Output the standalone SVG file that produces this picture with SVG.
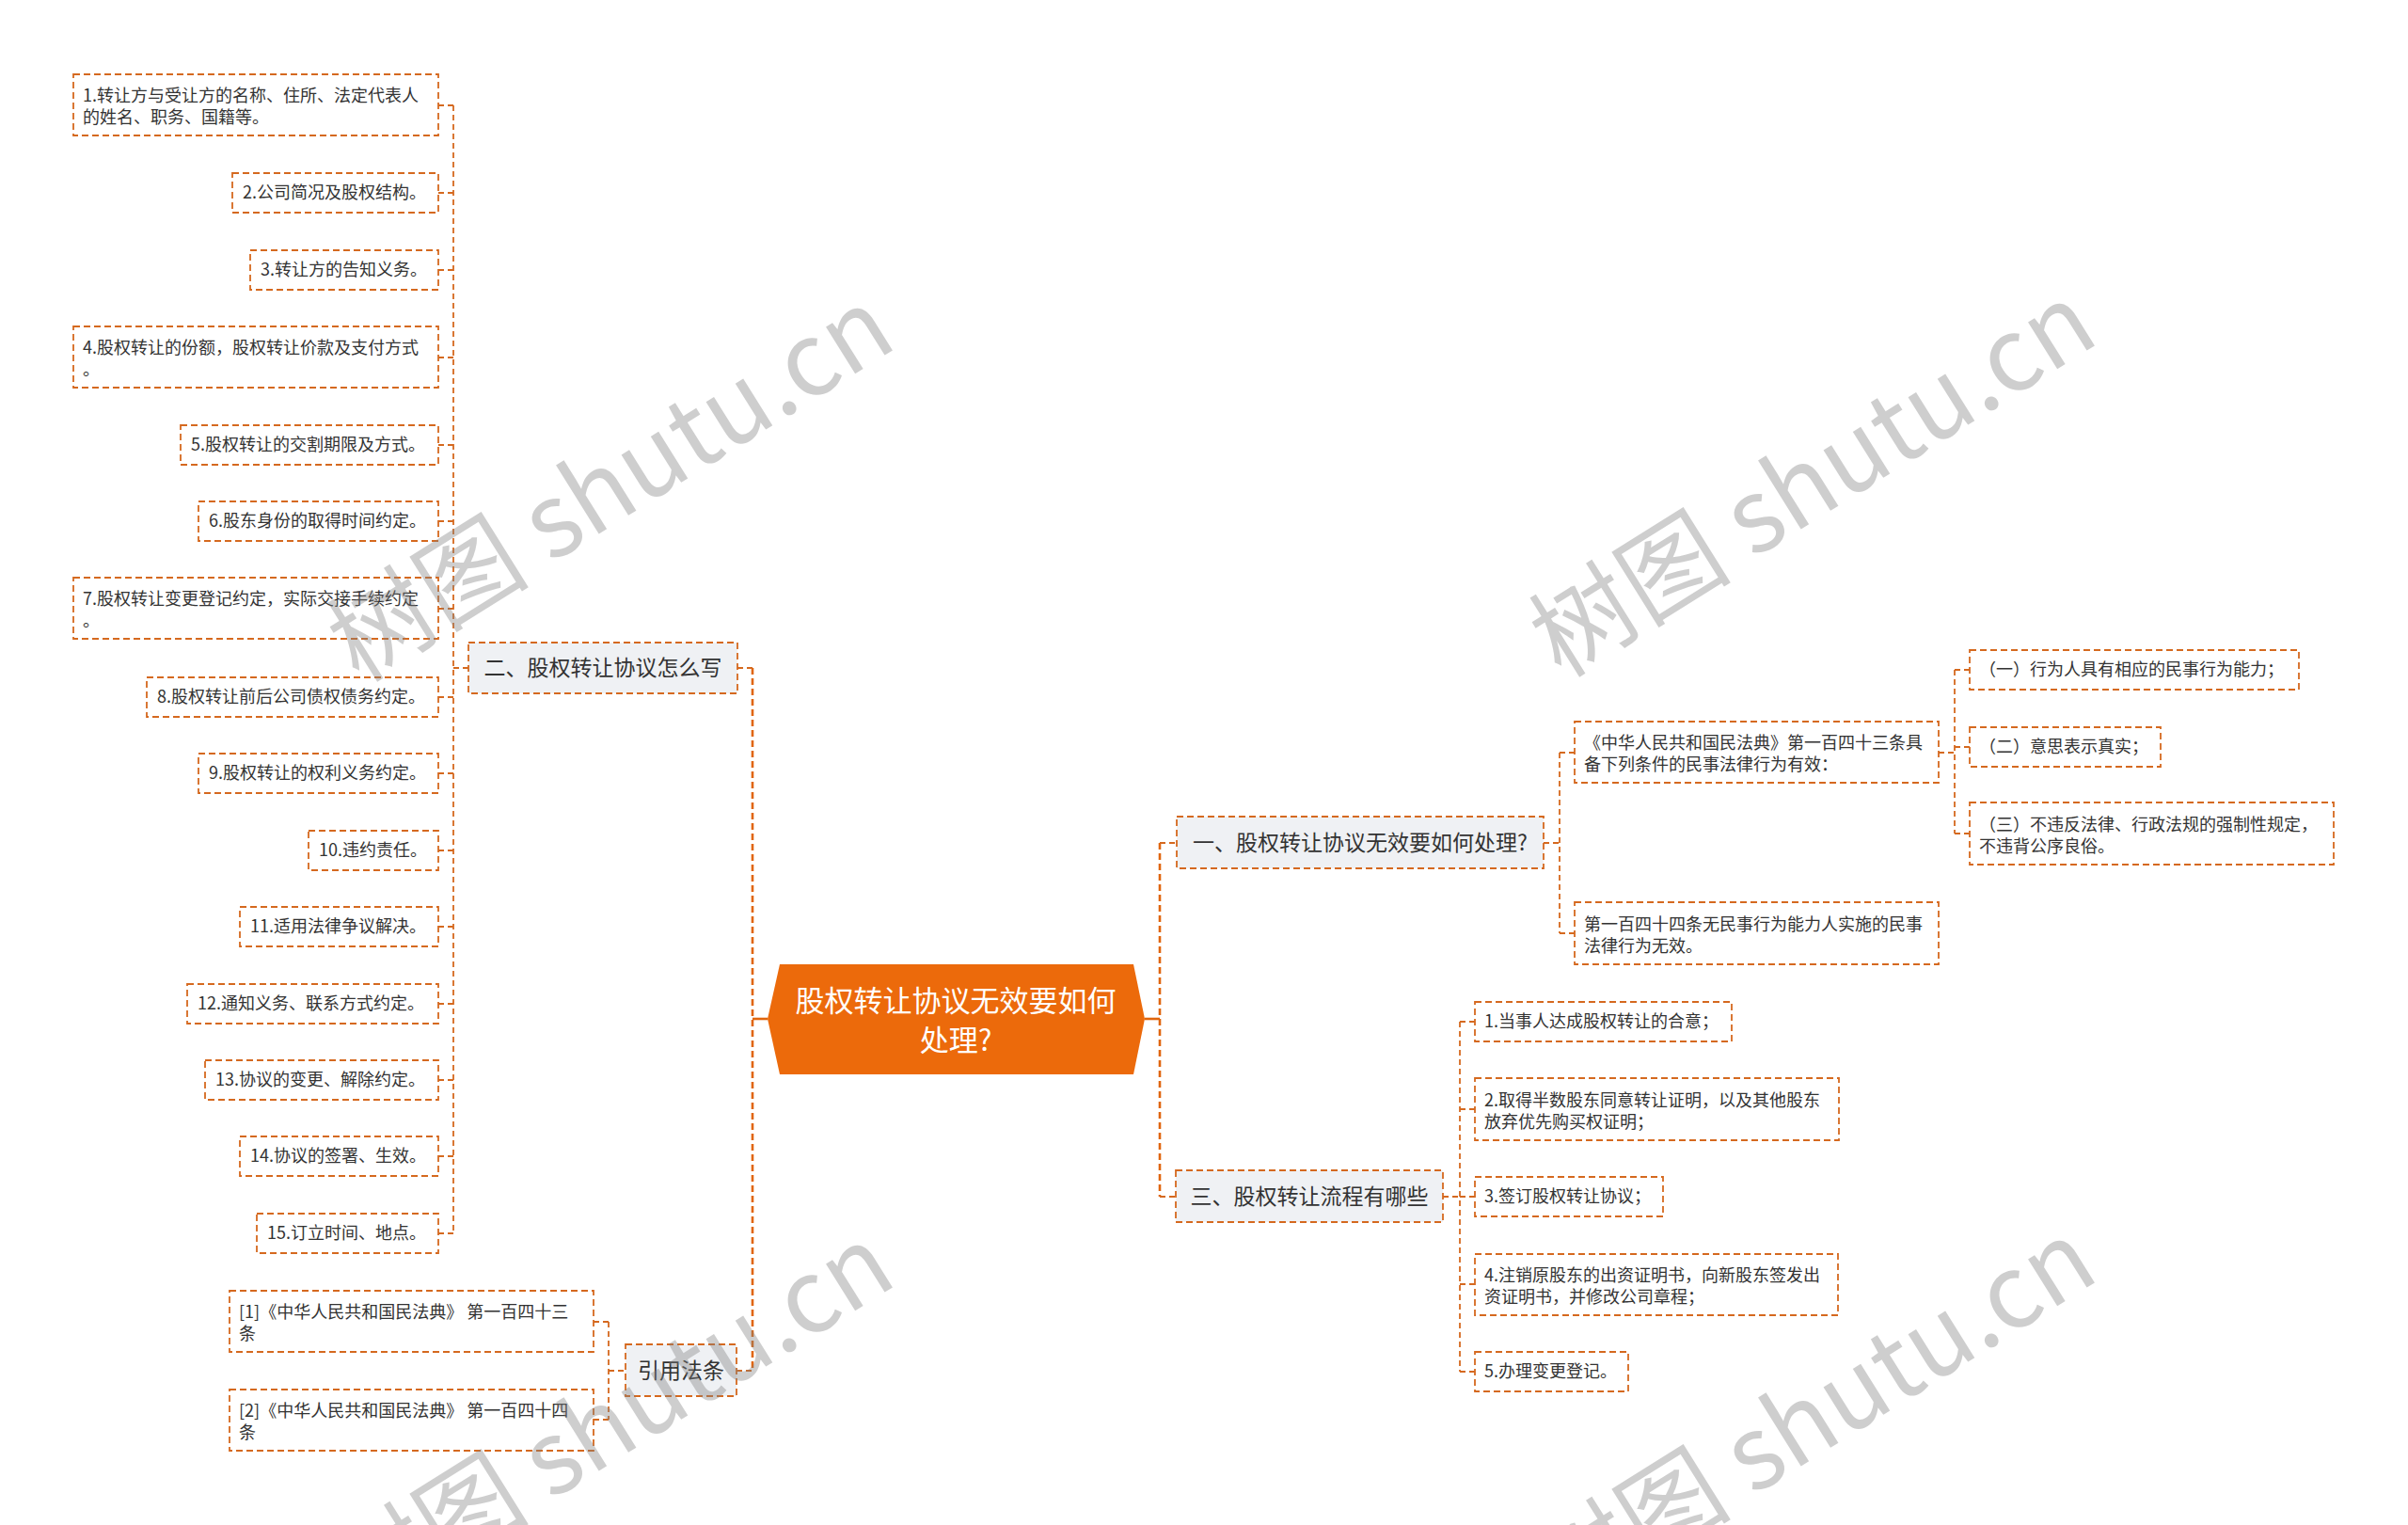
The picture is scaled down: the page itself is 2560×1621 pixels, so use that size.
<svg xmlns="http://www.w3.org/2000/svg" width="2560" height="1621" viewBox="0 0 2560 1621">
<style>
.leaf{fill:#ffffff;stroke:#D5691F;stroke-width:1.8;stroke-dasharray:7 4}
.br{fill:#EFF1F4;stroke:#D5691F;stroke-width:1.8;stroke-dasharray:7 4}
.t{font-family:"Noto Sans CJK SC","Microsoft YaHei",sans-serif;font-size:18px;fill:#333333}
.bt{font-family:"Noto Sans CJK SC","Microsoft YaHei",sans-serif;font-size:23px;fill:#333333;text-anchor:middle}
.ct{font-family:"Noto Sans CJK SC","Microsoft YaHei",sans-serif;font-size:31px;fill:#ffffff;text-anchor:middle}
.c{fill:none;stroke:#D5691F;stroke-width:1.8;stroke-dasharray:6 4}
.cm{fill:none;stroke:#E0650E;stroke-width:2.6;stroke-dasharray:7 4}
.cs{fill:none;stroke:#E0650E;stroke-width:2.6}
.wm{font-family:"Noto Sans CJK SC","Liberation Sans",sans-serif;font-size:108px;fill:#808080;opacity:0.38;text-anchor:middle}
</style>
<rect width="2560" height="1621" fill="#ffffff"/>
<g id="connectors">
<path class="c" d="M482 112 V1311"/>
<path class="c" d="M482 112 H466 M482 205 H466 M482 287 H466 M482 380 H466 M482 473 H466 M482 554 H466 M482 647 H466 M482 741 H466 M482 822 H466 M482 904 H466 M482 985 H466 M482 1067 H466 M482 1148 H466 M482 1229 H466 M482 1311 H466"/>
<path class="c" d="M482 710 H498"/>
<path class="cm" d="M800 710 V1457"/>
<path class="c" d="M784 710 H800 M783 1457 H800"/>
<path class="cs" d="M816 1083 H800"/>
<path class="c" d="M647 1405 V1509 M647 1405 H631 M647 1509 H631 M647 1457 H665"/>
<path class="cs" d="M1217 1083 H1233"/>
<path class="cm" d="M1233 896 V1272"/>
<path class="c" d="M1233 896 H1251 M1233 1272 H1250"/>
<path class="c" d="M1641 896 H1658 M1658 800 V992 M1658 800 H1674 M1658 992 H1674"/>
<path class="c" d="M2061 800 H2078 M2078 712 V886 M2078 712 H2094 M2078 794 H2094 M2078 886 H2094"/>
<path class="c" d="M1534 1272 H1552 M1552 1086 V1458 M1552 1086 H1568 M1552 1179 H1568 M1552 1272 H1568 M1552 1365 H1568 M1552 1458 H1568"/>
</g>
<g id="center">
<polygon points="829,1025 1205,1025 1217,1083 1205,1142 829,1142 816,1083" fill="#EC6A0B"/>
<text class="ct" x="1016" y="1075">股权转让协议无效要如何</text>
<text class="ct" x="1016" y="1117">处理?</text>
</g>
<g id="b2"><rect class="br" x="498" y="683" width="286" height="54"/><text class="bt" x="641" y="718">二、股权转让协议怎么写</text></g>
<g id="b1"><rect class="br" x="1251" y="868" width="390" height="55"/><text class="bt" x="1446" y="904">一、股权转让协议无效要如何处理?</text></g>
<g id="b3"><rect class="br" x="1250" y="1244" width="284" height="55"/><text class="bt" x="1392" y="1280">三、股权转让流程有哪些</text></g>
<g id="b4"><rect class="br" x="665" y="1429" width="118" height="55"/><text class="bt" x="724" y="1465">引用法条</text></g>
<g id="l1"><rect class="leaf" x="78" y="79" width="388" height="65"/><text class="t" x="88" y="108">1.转让方与受让方的名称、住所、法定代表人</text><text class="t" x="88" y="131">的姓名、职务、国籍等。</text></g>
<g id="l2"><rect class="leaf" x="247" y="184" width="219" height="42"/><text class="t" x="258" y="211">2.公司简况及股权结构。</text></g>
<g id="l3"><rect class="leaf" x="266" y="266" width="200" height="42"/><text class="t" x="277" y="293">3.转让方的告知义务。</text></g>
<g id="l4"><rect class="leaf" x="78" y="347" width="388" height="65"/><text class="t" x="88" y="376">4.股权转让的份额，股权转让价款及支付方式</text><text class="t" x="88" y="399">。</text></g>
<g id="l5"><rect class="leaf" x="192" y="452" width="274" height="42"/><text class="t" x="203" y="479">5.股权转让的交割期限及方式。</text></g>
<g id="l6"><rect class="leaf" x="211" y="533" width="255" height="42"/><text class="t" x="222" y="560">6.股东身份的取得时间约定。</text></g>
<g id="l7"><rect class="leaf" x="78" y="614" width="388" height="65"/><text class="t" x="88" y="643">7.股权转让变更登记约定，实际交接手续约定</text><text class="t" x="88" y="666">。</text></g>
<g id="l8"><rect class="leaf" x="156" y="720" width="310" height="42"/><text class="t" x="167" y="747">8.股权转让前后公司债权债务约定。</text></g>
<g id="l9"><rect class="leaf" x="211" y="801" width="255" height="42"/><text class="t" x="222" y="828">9.股权转让的权利义务约定。</text></g>
<g id="l10"><rect class="leaf" x="328" y="883" width="138" height="42"/><text class="t" x="339" y="910">10.违约责任。</text></g>
<g id="l11"><rect class="leaf" x="255" y="964" width="211" height="42"/><text class="t" x="266" y="991">11.适用法律争议解决。</text></g>
<g id="l12"><rect class="leaf" x="199" y="1046" width="267" height="42"/><text class="t" x="210" y="1073">12.通知义务、联系方式约定。</text></g>
<g id="l13"><rect class="leaf" x="218" y="1127" width="248" height="42"/><text class="t" x="229" y="1154">13.协议的变更、解除约定。</text></g>
<g id="l14"><rect class="leaf" x="255" y="1208" width="211" height="42"/><text class="t" x="266" y="1235">14.协议的签署、生效。</text></g>
<g id="l15"><rect class="leaf" x="273" y="1290" width="193" height="42"/><text class="t" x="284" y="1317">15.订立时间、地点。</text></g>
<g id="r1"><rect class="leaf" x="244" y="1372" width="387" height="65"/><text class="t" x="254" y="1401">[1]《中华人民共和国民法典》 第一百四十三</text><text class="t" x="254" y="1424">条</text></g>
<g id="r2"><rect class="leaf" x="244" y="1477" width="387" height="65"/><text class="t" x="254" y="1506">[2]《中华人民共和国民法典》 第一百四十四</text><text class="t" x="254" y="1529">条</text></g>
<g id="a1"><rect class="leaf" x="1674" y="767" width="387" height="65"/><text class="t" x="1684" y="796">《中华人民共和国民法典》第一百四十三条具</text><text class="t" x="1684" y="819">备下列条件的民事法律行为有效：</text></g>
<g id="a2"><rect class="leaf" x="1674" y="959" width="387" height="66"/><text class="t" x="1684" y="989">第一百四十四条无民事行为能力人实施的民事</text><text class="t" x="1684" y="1012">法律行为无效。</text></g>
<g id="s1"><rect class="leaf" x="2094" y="691" width="350" height="42"/><text class="t" x="2104" y="718">（一）行为人具有相应的民事行为能力；</text></g>
<g id="s2"><rect class="leaf" x="2094" y="773" width="203" height="42"/><text class="t" x="2104" y="800">（二）意思表示真实；</text></g>
<g id="s3"><rect class="leaf" x="2094" y="853" width="387" height="66"/><text class="t" x="2104" y="883">（三）不违反法律、行政法规的强制性规定，</text><text class="t" x="2104" y="906">不违背公序良俗。</text></g>
<g id="p1"><rect class="leaf" x="1568" y="1065" width="273" height="42"/><text class="t" x="1578" y="1092">1.当事人达成股权转让的合意；</text></g>
<g id="p2"><rect class="leaf" x="1568" y="1146" width="387" height="66"/><text class="t" x="1578" y="1176">2.取得半数股东同意转让证明，以及其他股东</text><text class="t" x="1578" y="1199">放弃优先购买权证明；</text></g>
<g id="p3"><rect class="leaf" x="1568" y="1251" width="200" height="42"/><text class="t" x="1578" y="1278">3.签订股权转让协议；</text></g>
<g id="p4"><rect class="leaf" x="1568" y="1333" width="386" height="65"/><text class="t" x="1578" y="1362">4.注销原股东的出资证明书，向新股东签发出</text><text class="t" x="1578" y="1385">资证明书，并修改公司章程；</text></g>
<g id="p5"><rect class="leaf" x="1568" y="1437" width="163" height="42"/><text class="t" x="1578" y="1464">5.办理变更登记。</text></g>
<g id="watermark">
<text class="wm" transform="translate(649,515) rotate(-32)" x="0" y="38">树图 shutu.cn</text>
<text class="wm" transform="translate(1927,510) rotate(-32)" x="0" y="38">树图 shutu.cn</text>
<text class="wm" transform="translate(649,1511) rotate(-32)" x="0" y="38">树图 shutu.cn</text>
<text class="wm" transform="translate(1927,1506) rotate(-32)" x="0" y="38">树图 shutu.cn</text>
</g>
</svg>
